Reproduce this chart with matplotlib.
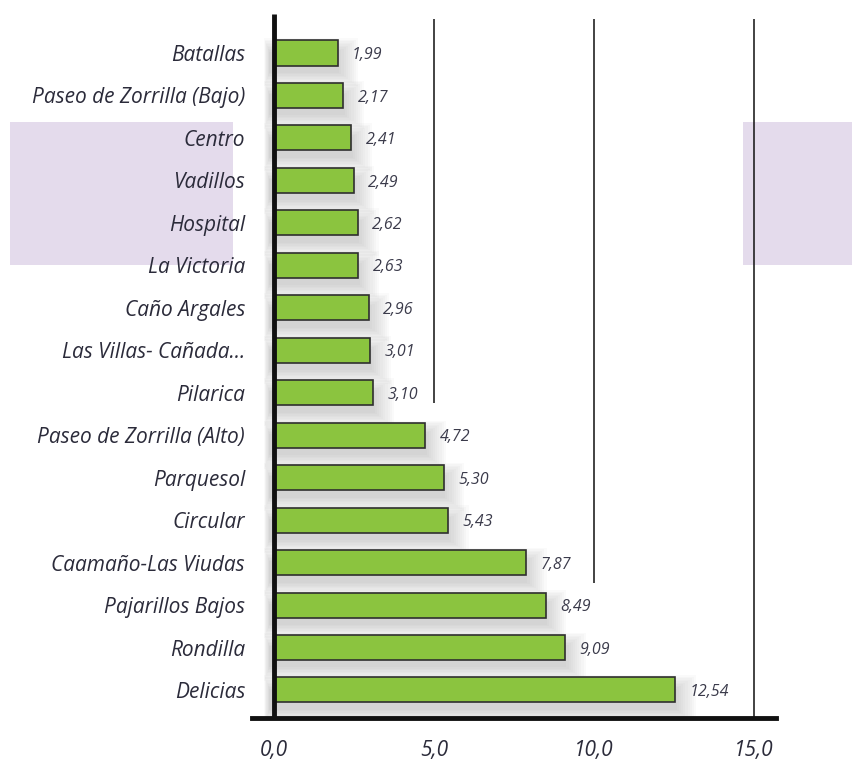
import matplotlib
matplotlib.use("Agg")
from matplotlib import pyplot as plt
from matplotlib.patches import Rectangle

barrios = ["Batallas", "Paseo de Zorrilla (Bajo)", "Centro", "Vadillos", "Hospital",
           "La Victoria", "Caño Argales", "Las Villas- Cañada...", "Pilarica",
           "Paseo de Zorrilla (Alto)", "Parquesol", "Circular", "Caamaño-Las Viudas",
           "Pajarillos Bajos", "Rondilla", "Delicias"]
valores = [1.99, 2.17, 2.41, 2.49, 2.62, 2.63, 2.96, 3.01, 3.10,
           4.72, 5.30, 5.43, 7.87, 8.49, 9.09, 12.54]
ticks = [0, 5, 10, 15]


def fmt(v, dec):
    return f"{v:.{dec}f}".replace(".", ",")


def main():
    plt.rcParams['font.family'] = ['Open Sans', 'DejaVu Sans']
    W, H = 853, 760
    fig = plt.figure(figsize=(W / 100, H / 100), dpi=100)

    # lavender highlight boxes
    for x0, x1 in [(10, 233), (743, 853)]:
        fig.patches.append(Rectangle((x0 / W, 1 - 265 / H), (x1 - x0) / W, (265 - 122) / H,
                                     transform=fig.transFigure, color="#e4dbec",
                                     zorder=-5, lw=0))

    ax = fig.add_axes([252 / W, 1 - 718 / H, (776 - 252) / W, (718 - 14) / H])
    ax.set_facecolor("none")
    ax.set_xlim(-0.6875, 15.6875)
    ax.set_ylim(15.66, -0.918)

    y = list(range(len(barrios)))

    # soft shadow under the bars
    for k in range(10):
        grow = 0.07 * k
        ax.barh([v + 0.22 for v in y], [w + 0.2 + grow * 1.2 for w in valores],
                height=0.5 + grow, left=-0.15 - grow * 0.25,
                color="#8a8a8a", alpha=0.04, lw=0, zorder=1)

    ax.barh(y, valores, height=0.59, color="#8bc43f", edgecolor="#2f2f2f",
            linewidth=1.2, zorder=3)

    for yi, v in zip(y, valores):
        ax.text(v + 0.45, yi + 0.05, fmt(v, 2), va="center", ha="left",
                fontsize=11.5, style="italic", color="#3b3b4b", zorder=4)

    # vertical reference lines
    ax.vlines(5, -0.80, 8.24, color="#222222", lw=1.2, zorder=2)
    ax.vlines(10, -0.80, 12.48, color="#222222", lw=1.2, zorder=2)
    ax.vlines(15, -0.80, 15.66, color="#222222", lw=1.2, zorder=2)

    ax.vlines(0, -0.918, 15.66, color="#111111", lw=3.5, zorder=5)

    for s in ["top", "right", "left"]:
        ax.spines[s].set_visible(False)
    ax.spines["bottom"].set_linewidth(3.5)
    ax.spines["bottom"].set_color("#111111")

    ax.set_yticks(y)
    ax.set_yticklabels(barrios, fontsize=15, style="italic", color="#2b2b3a")
    ax.set_xticks(ticks)
    ax.set_xticklabels([fmt(t, 1) for t in ticks], fontsize=15, style="italic",
                       color="#2b2b3a")
    ax.tick_params(axis="y", length=0, pad=5)
    ax.tick_params(axis="x", length=0, pad=16)

    fig.savefig("out.png", dpi=100)


if __name__ == "__main__":
    main()
